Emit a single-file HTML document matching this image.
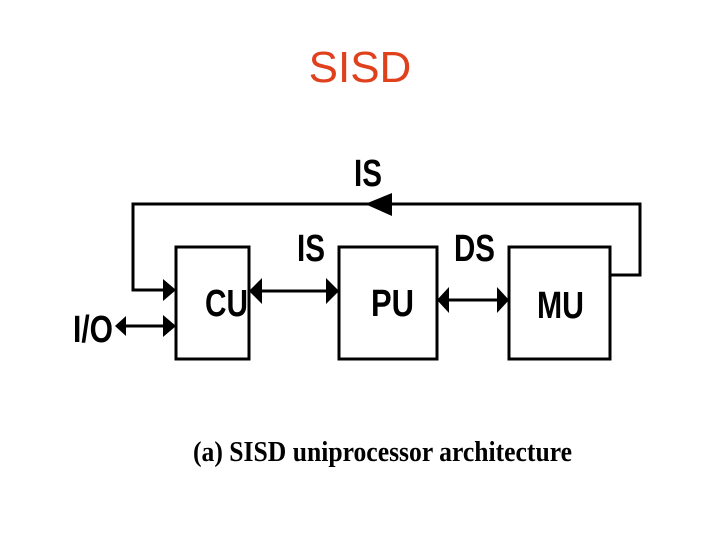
<!DOCTYPE html>
<html><head><meta charset="utf-8"><style>
html,body{margin:0;padding:0;background:#fff;}
</style></head><body>
<svg width="720" height="540" viewBox="0 0 720 540" xmlns="http://www.w3.org/2000/svg">
<rect width="720" height="540" fill="#fff"/>
<text x="360" y="82" text-anchor="middle" font-family="Liberation Sans, sans-serif" font-size="44" fill="#E0401C">SISD</text>
<g fill="none" stroke="#000" stroke-width="3">
<rect x="176" y="247" width="73" height="112"/>
<rect x="339" y="247" width="98" height="112"/>
<rect x="509" y="247" width="101" height="112"/>
<polyline points="610,275 640,275 640,204 133,204 133,290 170,290"/>
<line x1="124" y1="326" x2="170" y2="326"/>
<line x1="256" y1="291" x2="332" y2="291"/>
<line x1="444" y1="300" x2="502" y2="300"/>
</g>
<g fill="#000">
<polygon points="365,204 392,193 392,216"/>
<polygon points="176,290 163,279 163,301"/>
<polygon points="176,326 163,315 163,337"/>
<polygon points="115,326 126,316 126,336"/>
<polygon points="249,291 262,278 262,304"/>
<polygon points="339,291 326,278 326,304"/>
<polygon points="437,300 449,287 449,313"/>
<polygon points="509,300 497,287 497,313"/>
</g>
<g font-family="Liberation Sans, sans-serif" font-weight="bold" font-size="38" fill="#000">
<text x="354" y="186" textLength="28" lengthAdjust="spacingAndGlyphs">IS</text>
<text x="297" y="261" textLength="28" lengthAdjust="spacingAndGlyphs">IS</text>
<text x="454" y="261" textLength="41" lengthAdjust="spacingAndGlyphs">DS</text>
<text x="205" y="316" textLength="43" lengthAdjust="spacingAndGlyphs">CU</text>
<text x="371" y="316" textLength="43" lengthAdjust="spacingAndGlyphs">PU</text>
<text x="537" y="318" textLength="47" lengthAdjust="spacingAndGlyphs">MU</text>
<text x="73" y="342" textLength="40" lengthAdjust="spacingAndGlyphs">I/O</text>
</g>
<text x="193" y="461" textLength="379" lengthAdjust="spacingAndGlyphs" font-family="Liberation Serif, serif" font-weight="bold" font-size="29" fill="#000">(a) SISD uniprocessor architecture</text>
</svg>
</body></html>
